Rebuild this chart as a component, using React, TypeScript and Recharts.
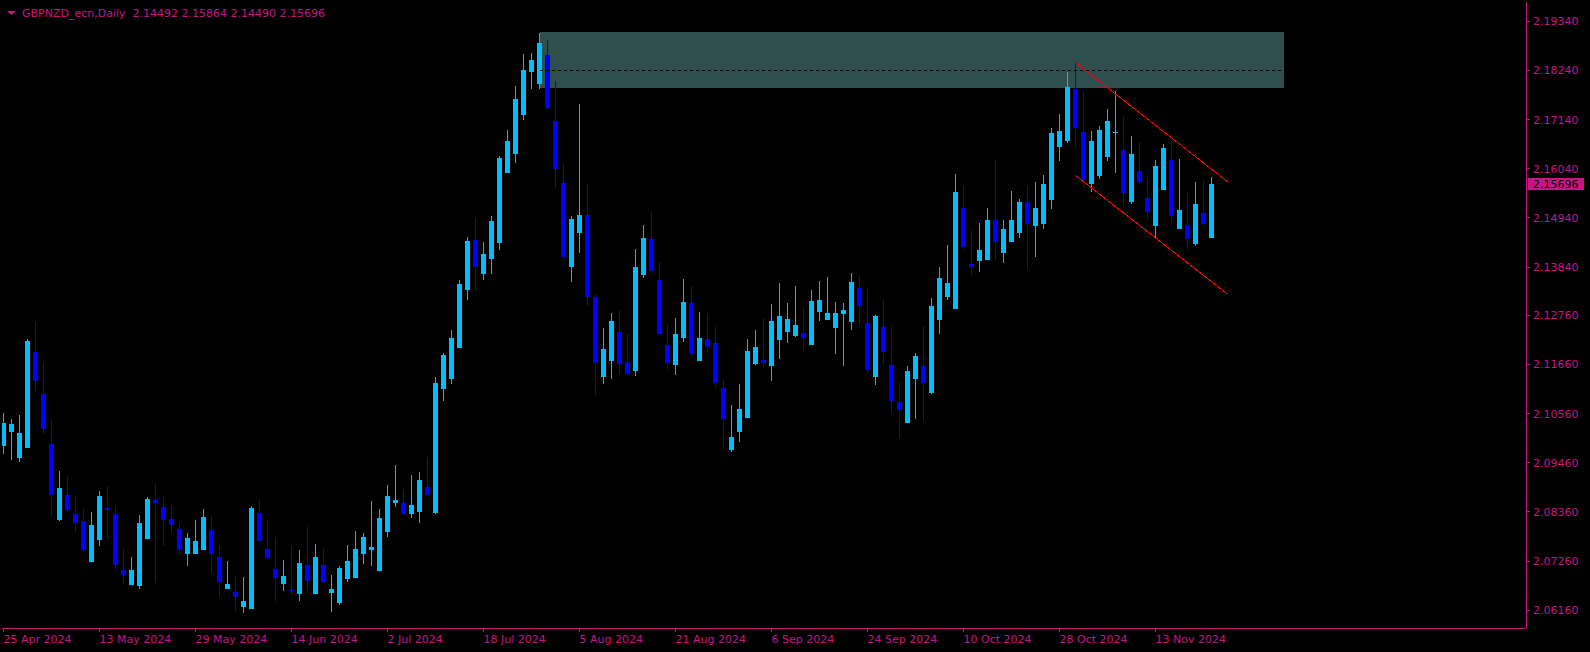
import {
  ComposedChart,
  Bar,
  XAxis,
  YAxis,
  ReferenceArea,
  ReferenceLine,
} from "recharts";

// GBPNZD daily, 25 Apr 2024 .. 22 Nov 2024 (one entry per trading day)
const opens = [
  2.09825, 2.10155, 2.09575, 2.09798, 2.11939, 2.11002, 2.09887, 2.08174, 2.08736, 2.08308,
  2.08157, 2.07247, 2.07737, 2.08451, 2.08308, 2.07059, 2.06729, 2.06703, 2.07764, 2.08629,
  2.08469, 2.08201, 2.07987, 2.07407, 2.07425, 2.07514, 2.07951, 2.07345, 2.0664, 2.06569,
  2.06221, 2.06194, 2.08326, 2.07532, 2.07077, 2.06747, 2.06613, 2.06533, 2.07175, 2.06533,
  2.07175, 2.06551, 2.06328, 2.06863, 2.0689, 2.07407, 2.07505, 2.07042, 2.07907, 2.08549,
  2.08558, 2.08317, 2.08362, 2.08915, 2.08335, 2.11118, 2.11341, 2.12037, 2.1333, 2.14445,
  2.13687, 2.14026, 2.14383, 2.15953, 2.16381, 2.17237, 2.18209, 2.17942, 2.18584, 2.17103,
  2.15721, 2.13848, 2.14606, 2.15007, 2.1317, 2.11368, 2.11742, 2.12385, 2.11716, 2.11502,
  2.13651, 2.14463, 2.13553, 2.1209, 2.11653, 2.1226, 2.13036, 2.11742, 2.12233, 2.12135,
  2.11136, 2.09735, 2.10137, 2.10467, 2.1168, 2.1176, 2.11635, 2.12215, 2.12394, 2.12287,
  2.12367, 2.12099, 2.1284, 2.12661, 2.12483, 2.12795, 2.12617, 2.13366, 2.1259, 2.11386,
  2.12501, 2.11644, 2.10815, 2.1036, 2.11341, 2.11626, 2.11011, 2.12661, 2.13179, 2.12911,
  2.15159, 2.1391, 2.13981, 2.14008, 2.14891, 2.1416, 2.14409, 2.14606, 2.15293, 2.14766,
  2.14811, 2.15346, 2.16532, 2.16657, 2.17826, 2.16862, 2.15703, 2.15881, 2.16309, 2.16845,
  2.16461, 2.15293, 2.15979, 2.15382, 2.14766, 2.15569, 2.16238, 2.14695, 2.14784, 2.14365,
  2.15052, 2.14492,
];

const highs = [
  2.10583, 2.10449, 2.10529, 2.12233, 2.12608, 2.11689, 2.10422, 2.09272, 2.09138, 2.08719,
  2.08433, 2.08353, 2.08826, 2.0895, 2.08504, 2.0755, 2.07354, 2.0829, 2.08683, 2.08986,
  2.08719, 2.08495, 2.08112, 2.07889, 2.08174, 2.08424, 2.08264, 2.07595, 2.07265, 2.06926,
  2.06899, 2.08487, 2.08629, 2.08174, 2.078, 2.07282, 2.07595, 2.07505, 2.08023, 2.07639,
  2.07532, 2.06952, 2.07149, 2.07621, 2.07934, 2.07889, 2.08603, 2.08424, 2.08959, 2.09405,
  2.0887, 2.09182, 2.09254, 2.09584, 2.11377, 2.11912, 2.12429, 2.13553, 2.14508, 2.14936,
  2.14401, 2.1498, 2.16327, 2.16907, 2.17888, 2.18611, 2.18629, 2.19075, 2.18923, 2.18004,
  2.16149, 2.1498, 2.17487, 2.15694, 2.13232, 2.12474, 2.12813, 2.12875, 2.1234, 2.1424,
  2.14784, 2.1507, 2.13955, 2.12563, 2.12697, 2.13571, 2.1341, 2.12831, 2.12813, 2.12501,
  2.11314, 2.10752, 2.11225, 2.12233, 2.12429, 2.12706, 2.13009, 2.13482, 2.13036, 2.1341,
  2.12929, 2.1333, 2.13526, 2.13616, 2.13054, 2.13036, 2.13705, 2.13642, 2.13366, 2.12768,
  2.13098, 2.12501, 2.1127, 2.11626, 2.11912, 2.12518, 2.13143, 2.13839, 2.14329, 2.15917,
  2.15649, 2.14641, 2.14829, 2.15159, 2.16229, 2.14891, 2.15542, 2.15364, 2.15649, 2.15739,
  2.15899, 2.16952, 2.17264, 2.182, 2.18415, 2.17754, 2.1688, 2.16996, 2.1738, 2.17781,
  2.17193, 2.16773, 2.16639, 2.15828, 2.16238, 2.16595, 2.16711, 2.16256, 2.15516, 2.15739,
  2.15774, 2.15864,
];

const lows = [
  2.09646, 2.0953, 2.09468, 2.09789, 2.11073, 2.10092, 2.08264, 2.08157, 2.08353, 2.07907,
  2.07461, 2.07238, 2.07604, 2.07728, 2.07086, 2.06747, 2.0672, 2.0664, 2.07755, 2.06774,
  2.07604, 2.07889, 2.07443, 2.07149, 2.07416, 2.07505, 2.06988, 2.06462, 2.06631, 2.0615,
  2.06096, 2.06185, 2.07702, 2.07282, 2.06364, 2.06578, 2.06489, 2.06364, 2.06578, 2.06524,
  2.06774, 2.06123, 2.06283, 2.06801, 2.06881, 2.07202, 2.07149, 2.07033, 2.078, 2.0846,
  2.08308, 2.08219, 2.08112, 2.08719, 2.08308, 2.10841, 2.11225, 2.12028, 2.13107, 2.13312,
  2.13553, 2.13687, 2.14222, 2.15944, 2.16176, 2.17139, 2.17835, 2.17835, 2.17344, 2.15614,
  2.13999, 2.13509, 2.14151, 2.12964, 2.10975, 2.11225, 2.11332, 2.11448, 2.11403, 2.11403,
  2.13598, 2.13696, 2.1234, 2.11564, 2.11421, 2.12171, 2.11832, 2.11733, 2.11939, 2.11145,
  2.09816, 2.09709, 2.09923, 2.10458, 2.11644, 2.116, 2.11296, 2.11787, 2.12135, 2.12278,
  2.11948, 2.1209, 2.12634, 2.12652, 2.11903, 2.11635, 2.1242, 2.12545, 2.11475, 2.11207,
  2.1168, 2.10583, 2.10021, 2.10351, 2.10449, 2.10404, 2.11002, 2.12349, 2.13107, 2.12902,
  2.1424, 2.1366, 2.1374, 2.13999, 2.14008, 2.13928, 2.14401, 2.1449, 2.13794, 2.14062,
  2.14686, 2.15141, 2.16211, 2.16613, 2.16506, 2.15614, 2.15524, 2.15819, 2.1622, 2.15953,
  2.15239, 2.15257, 2.15703, 2.14882, 2.1449, 2.1556, 2.14855, 2.14686, 2.1424, 2.14311,
  2.14748, 2.1449,
];

const closes = [
  2.10342, 2.10324, 2.10128, 2.12179, 2.11279, 2.10226, 2.08745, 2.08897, 2.08397, 2.08121,
  2.07514, 2.08067, 2.08719, 2.08406, 2.07175, 2.06952, 2.07059, 2.08112, 2.08656, 2.08558,
  2.08174, 2.08067, 2.07496, 2.07773, 2.07711, 2.08246, 2.07407, 2.06801, 2.06747, 2.06462,
  2.06364, 2.08451, 2.07711, 2.07336, 2.0689, 2.06926, 2.06578, 2.0722, 2.06819, 2.07354,
  2.06801, 2.06631, 2.07104, 2.07265, 2.07532, 2.078, 2.07577, 2.08219, 2.08719, 2.08629,
  2.08317, 2.08513, 2.09075, 2.08745, 2.11243, 2.11867, 2.12251, 2.13464, 2.14418, 2.13848,
  2.14133, 2.14873, 2.16283, 2.16657, 2.17603, 2.18245, 2.18468, 2.18852, 2.17407, 2.16024,
  2.14062, 2.14918, 2.15007, 2.13179, 2.11698, 2.12001, 2.12634, 2.1168, 2.11457, 2.13839,
  2.1449, 2.13758, 2.12349, 2.11689, 2.1234, 2.13054, 2.11903, 2.12251, 2.12055, 2.11234,
  2.10431, 2.10039, 2.10663, 2.11956, 2.12046, 2.11689, 2.12634, 2.12741, 2.12679, 2.12545,
  2.1226, 2.1308, 2.13098, 2.12813, 2.12813, 2.12875, 2.13509, 2.12973, 2.11546, 2.12741,
  2.11939, 2.1085, 2.10645, 2.1151, 2.11849, 2.11234, 2.12964, 2.13598, 2.13482, 2.15516,
  2.14294, 2.13839, 2.14222, 2.14891, 2.14409, 2.14686, 2.14891, 2.15293, 2.14811, 2.15159,
  2.15694, 2.16836, 2.1688, 2.1787, 2.16952, 2.15783, 2.16657, 2.16907, 2.17103, 2.16862,
  2.15507, 2.16372, 2.15739, 2.15078, 2.16104, 2.16506, 2.14989, 2.15114, 2.14473, 2.15248,
  2.14811, 2.15696,
];

// bar index of each date label, and the label text
const dateTicks = [0, 12, 24, 36, 48, 60, 72, 84, 96, 108, 120, 132, 144];
const dateLabels = [
  "25 Apr 2024", "13 May 2024", "29 May 2024", "14 Jun 2024", "2 Jul 2024",
  "18 Jul 2024", "5 Aug 2024", "21 Aug 2024", "6 Sep 2024", "24 Sep 2024",
  "10 Oct 2024", "28 Oct 2024", "13 Nov 2024",
];

const priceTicks = [
  2.0616, 2.0726, 2.0836, 2.0946, 2.1056, 2.1166, 2.1276,
  2.1384, 2.1494, 2.1604, 2.1714, 2.1824, 2.1934,
];

const lastPrice = 2.15696;

// supply zone and descending channel drawn on the chart
const zoneFrom = 67;
const zoneTo = 160;
const zoneTop = 2.19103;
const zoneBottom = 2.17845;
const zoneMid = 2.1824;

const channelUpper = [
  { x: 134, y: 2.18416 },
  { x: 153, y: 2.1575 },
];
const channelLower = [
  { x: 134, y: 2.15891 },
  { x: 153, y: 2.13234 },
];

const AXIS = "#C71585";
const BULL = "#00BFFF";
const BEAR = "#0000FF";
const FONT = "'DejaVu Sans', Tahoma, sans-serif";

const candles = opens.map((o, i) => ({
  i,
  open: o,
  high: highs[i],
  low: lows[i],
  close: closes[i],
}));

function Candle(props: any) {
  const { x, y, width, height, payload } = props;
  if (x == null || y == null) return null;
  const { open, close, high, low } = payload;
  const color = close > open ? BULL : BEAR;
  const range = high - low || 1e-9;
  const yOf = (v: number) => y + ((high - v) / range) * height;
  const cx = x + width / 2;
  const top = Math.min(yOf(open), yOf(close));
  const bodyH = Math.max(1, Math.abs(yOf(open) - yOf(close)));
  return (
    <g>
      <line x1={cx} x2={cx} y1={y} y2={y + height} stroke={color} strokeWidth={1} />
      <rect x={cx - 2.5} y={top} width={5} height={bodyH} fill={color} />
    </g>
  );
}

function DateTick({ x, y, payload }: any) {
  const idx = dateTicks.indexOf(payload.value);
  return (
    <text x={x} y={y} dy={9} fill={AXIS} fontSize={11} fontFamily={FONT} textAnchor="start">
      {dateLabels[idx]}
    </text>
  );
}

function PriceTick({ x, y, payload }: any) {
  return (
    <text x={x} y={y} dy={4} fill={AXIS} fontSize={11} fontFamily={FONT} textAnchor="start">
      {payload.value.toFixed(5)}
    </text>
  );
}

function PriceTag(props: any) {
  const vb = props.viewBox;
  if (!vb) return null;
  const left = vb.x + vb.width + 2;
  return (
    <g>
      <rect x={left} y={vb.y - 6} width={56} height={12} fill={AXIS} />
      <text x={left + 5} y={vb.y} dy={4} fill="#000" fontSize={11} fontFamily={FONT}>
        {lastPrice.toFixed(5)}
      </text>
    </g>
  );
}

export default function App() {
  return (
    <div style={{ position: "relative", width: 1590, height: 652, background: "#000" }}>
      <style>{"body{margin:0;background:#000}"}</style>
      <div
        style={{
          position: "absolute",
          left: 7,
          top: 6,
          color: AXIS,
          fontFamily: FONT,
          fontSize: 11,
          whiteSpace: "pre",
          display: "flex",
          alignItems: "center",
          zIndex: 2,
        }}
      >
        <svg width={12} height={14} style={{ marginRight: 3 }}>
          <polygon points="0,5 9,5 4.5,9" fill={AXIS} />
        </svg>
        {"GBPNZD_ecn,Daily  2.14492 2.15864 2.14490 2.15696"}
      </div>
      <div style={{ shapeRendering: "crispEdges" }}>
        <ComposedChart
          width={1590}
          height={652}
          data={candles}
          margin={{ top: 2, right: 0, left: 2, bottom: 0 }}
        >
          <XAxis
            dataKey="i"
            type="number"
            domain={[-0.1875, 190.3125]}
            allowDataOverflow
            ticks={dateTicks}
            interval={0}
            height={24}
            axisLine={{ stroke: AXIS }}
            tickLine={{ stroke: AXIS }}
            tickSize={4}
            tickMargin={2}
            tick={<DateTick />}
          />
          <XAxis
            xAxisId="top"
            orientation="top"
            dataKey="i"
            type="number"
            domain={[-0.1875, 190.3125]}
            height={0}
            tick={false}
            tickLine={false}
            axisLine={{ stroke: AXIS }}
          />
          <YAxis
            orientation="right"
            type="number"
            domain={[2.05761, 2.19772]}
            allowDataOverflow
            ticks={priceTicks}
            interval={0}
            width={64}
            axisLine={{ stroke: AXIS }}
            tickLine={{ stroke: AXIS }}
            tickSize={4}
            tickMargin={3}
            tick={<PriceTick />}
          />
          <YAxis
            yAxisId="left"
            orientation="left"
            width={0}
            tick={false}
            tickLine={false}
            axisLine={{ stroke: AXIS }}
          />
          <ReferenceArea
            x1={zoneFrom}
            x2={zoneTo}
            y1={zoneBottom}
            y2={zoneTop}
            fill="#2F4F4F"
            fillOpacity={1}
            stroke="none"
          />
          <ReferenceLine
            segment={[
              { x: zoneFrom, y: zoneMid },
              { x: zoneTo, y: zoneMid },
            ]}
            stroke="#000"
            strokeDasharray="3 3"
          />
          <Bar
            dataKey={(d: any) => [d.low, d.high]}
            barSize={5}
            shape={Candle}
            isAnimationActive={false}
          />
          <ReferenceLine segment={channelUpper} stroke="#FF0000" strokeWidth={1} />
          <ReferenceLine segment={channelLower} stroke="#FF0000" strokeWidth={1} />
          <ReferenceLine y={lastPrice} stroke="none" label={PriceTag} />
        </ComposedChart>
      </div>
    </div>
  );
}
